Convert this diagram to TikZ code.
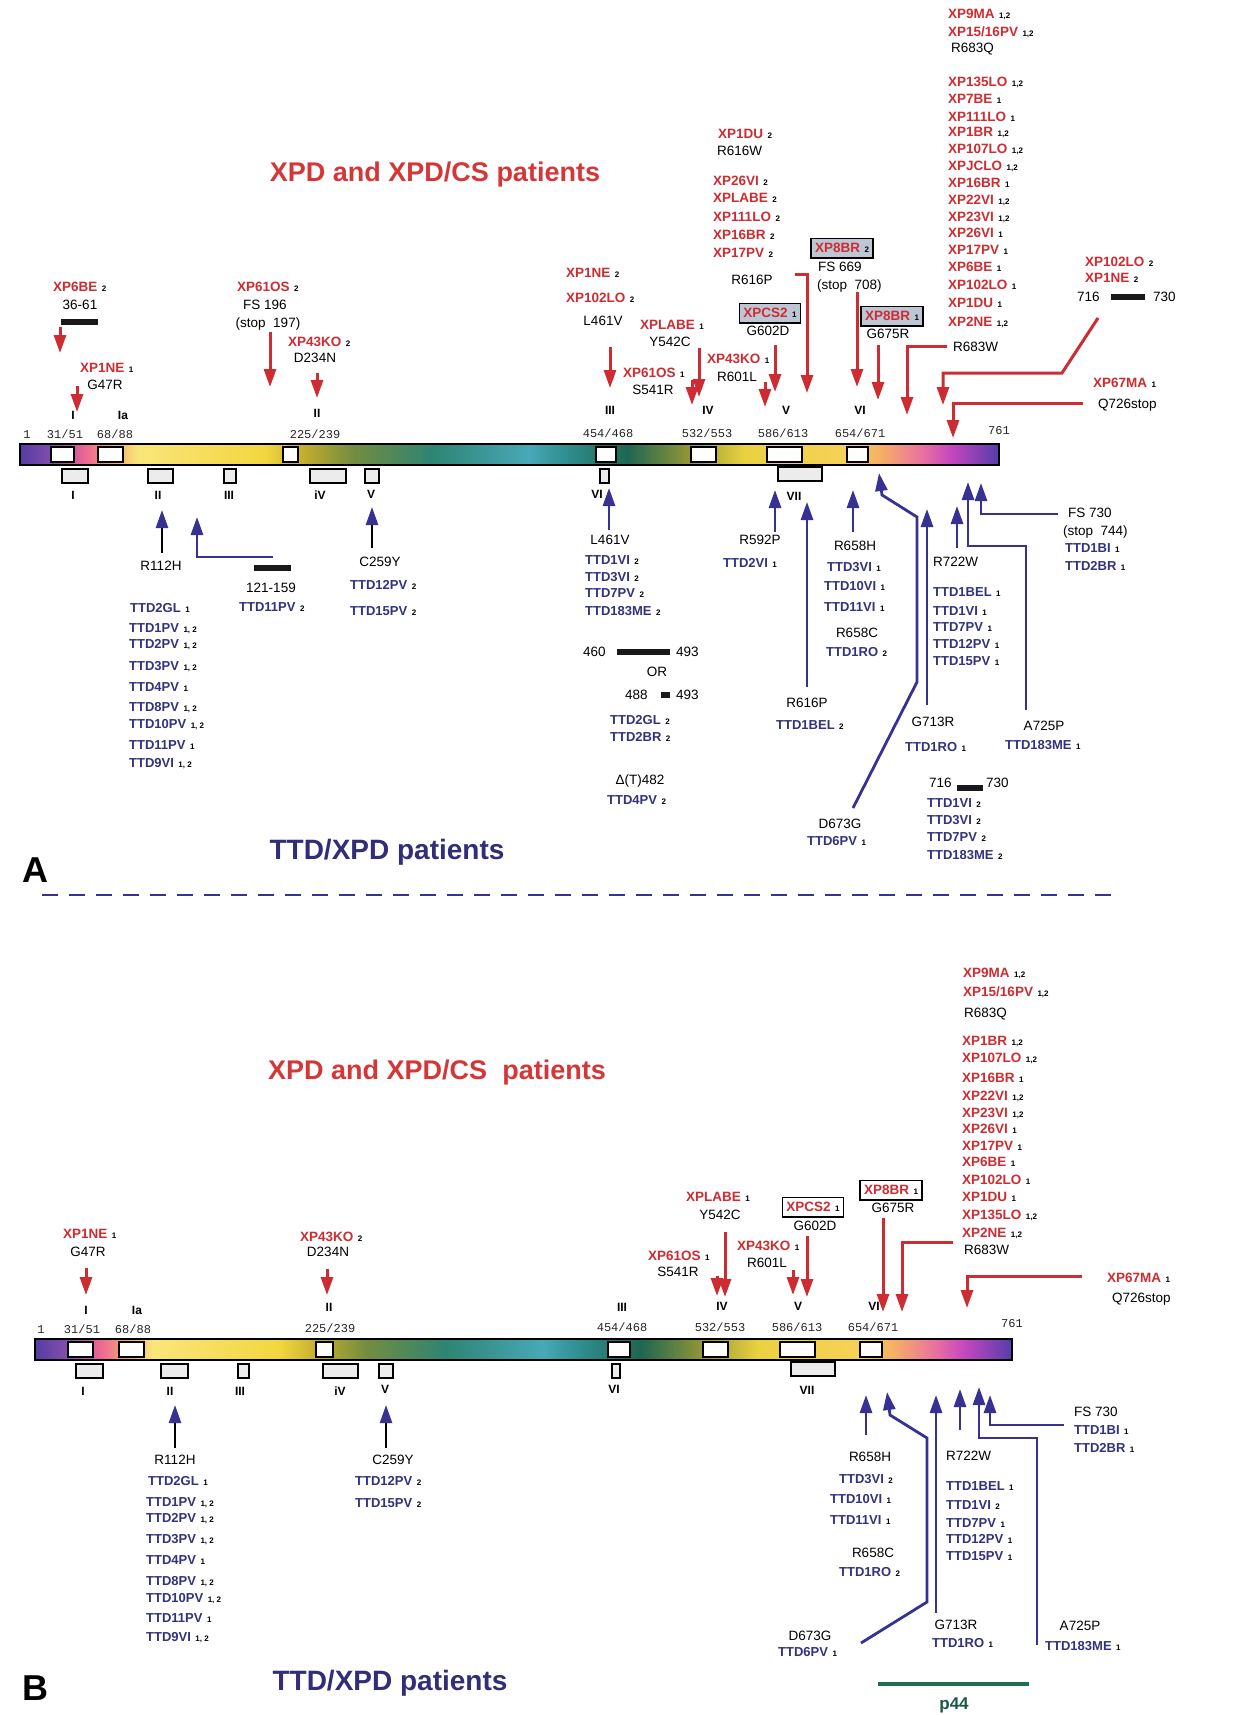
\documentclass[tikz,border=0pt]{standalone}
\usepackage{fontspec}
\setmainfont{Liberation Sans}
\newfontfamily\monof{Liberation Mono}
\usetikzlibrary{arrows.meta}
\definecolor{xpred}{RGB}{205,45,50}
\definecolor{titlered}{RGB}{212,55,55}
\definecolor{ttdblue}{RGB}{55,50,145}
\definecolor{ttdtext}{RGB}{50,50,125}
\definecolor{titleblue}{RGB}{50,45,120}
\definecolor{boxgray}{RGB}{190,198,212}
\definecolor{p44green}{RGB}{30,110,80}
\pgfdeclarehorizontalshading{xpdbar}{100bp}{
rgb(0bp)=(.33,.24,.63);
rgb(25bp)=(.33,.24,.63);
rgb(26.5bp)=(.50,.30,.68);
rgb(28.3bp)=(.93,.40,.58);
rgb(30bp)=(.97,.70,.45);
rgb(31bp)=(.98,.90,.48);
rgb(37.5bp)=(.95,.84,.25);
rgb(39.5bp)=(.76,.68,.18);
rgb(42bp)=(.45,.55,.25);
rgb(46bp)=(.18,.52,.45);
rgb(51bp)=(.28,.66,.72);
rgb(53bp)=(.18,.55,.55);
rgb(56bp)=(.12,.40,.32);
rgb(59bp)=(.55,.58,.22);
rgb(62bp)=(.92,.82,.25);
rgb(67.5bp)=(.97,.82,.35);
rgb(69bp)=(.96,.68,.40);
rgb(71bp)=(.92,.45,.62);
rgb(72.5bp)=(.78,.28,.75);
rgb(75bp)=(.33,.24,.67);
rgb(100bp)=(.33,.24,.67)}
\newcommand{\sn}[1]{\hspace{4.5pt}{\color{black}\fontsize{8}{8}\selectfont\bfseries #1}}
\newcommand{\lab}[5]{\node[#2] (#1) at (#3,#4) {#5};}
\tikzset{
  xp/.style={font=\fontsize{13.5}{14}\selectfont\bfseries, text=xpred, anchor=west, inner sep=0pt, text height=9.7pt, text depth=0pt},
  mt/.style={font=\fontsize{13.5}{14}\selectfont, text=black, inner sep=0pt, text height=9.7pt, text depth=0pt},
  mtw/.style={mt, anchor=west},
  td/.style={font=\fontsize{13}{14}\selectfont\bfseries, text=ttdtext, anchor=west, inner sep=0pt, text height=9.4pt, text depth=0pt},
  nm/.style={font=\monof\fontsize{12}{12}\selectfont, text=black!85, inner sep=0pt, text height=8.5pt, text depth=0pt},
  mo/.style={font=\fontsize{12}{12}\selectfont\bfseries, inner sep=0pt, text height=8.6pt, text depth=0pt},
  bx/.style={xp, anchor=center, draw=black, line width=1.3pt, fill=boxgray, inner xsep=4pt, inner ysep=5pt},
  bxw/.style={bx, fill=white},
  redarr/.style={draw=xpred, line width=3pt, -{Triangle[width=12pt,length=18pt]}},
  bluearr/.style={draw=ttdblue, line width=2.8pt, -{Triangle[width=12pt,length=18pt]}},
  blkarr/.style={draw=black, line width=2.5pt, -{Triangle[width=12pt,length=18pt,color=ttdblue]}},
  whbox/.style={draw=black, line width=1.5pt, fill=white},
  smbox/.style={draw=black, line width=1.4pt, fill=gray!15},
  blkbar/.style={fill=black!90},
  bigtitle/.style={font=\fontsize{27}{30}\selectfont\bfseries},
  bigtitleb/.style={font=\fontsize{28}{30}\selectfont\bfseries},
  panel/.style={font=\fontsize{36}{38}\selectfont\bfseries, text=black}
}
\begin{document}
\begin{tikzpicture}[x=1pt,y=-1pt]
\useasboundingbox (0,0) rectangle (1260,1715);
\fill[white] (0,0) rectangle (1260,1715);

% ================= PANEL A =================
\node[bigtitle, text=titlered] (aT) at (435,175) {XPD and XPD/CS patients};

% top-right list
\lab{a1}{xp}{948}{14}{XP9MA\sn{1,2}}
\lab{a2}{xp}{948}{32}{XP15/16PV\sn{1,2}}
\lab{a3}{mtw}{951}{48}{R683Q}
\lab{a4}{xp}{948}{82}{XP135LO\sn{1,2}}
\lab{a5}{xp}{948}{99}{XP7BE\sn{1}}
\lab{a6}{xp}{948}{117}{XP111LO\sn{1}}
\lab{a7}{xp}{948}{132}{XP1BR\sn{1,2}}
\lab{a8}{xp}{948}{149}{XP107LO\sn{1,2}}
\lab{a9}{xp}{948}{166}{XPJCLO\sn{1,2}}
\lab{a10}{xp}{948}{183}{XP16BR\sn{1}}
\lab{a11}{xp}{948}{200}{XP22VI\sn{1,2}}
\lab{a12}{xp}{948}{217}{XP23VI\sn{1,2}}
\lab{a13}{xp}{948}{233}{XP26VI\sn{1}}
\lab{a14}{xp}{948}{250}{XP17PV\sn{1}}
\lab{a15}{xp}{948}{267}{XP6BE\sn{1}}
\lab{a16}{xp}{948}{285}{XP102LO\sn{1}}
\lab{a17}{xp}{948}{303}{XP1DU\sn{1}}
\lab{a18}{xp}{948}{322}{XP2NE\sn{1,2}}
\lab{a19}{mtw}{953}{347}{R683W}

\lab{a20}{xp}{1085}{262}{XP102LO\sn{2}}
\lab{a21}{xp}{1085}{278}{XP1NE\sn{2}}
\lab{a22}{mtw}{1077}{297}{716}
\fill[blkbar] (1111,294) rectangle (1145,300);
\lab{a23}{mtw}{1153}{297}{730}

\lab{a24}{xp}{1093}{383}{XP67MA\sn{1}}
\lab{a25}{mtw}{1098}{404}{Q726stop}

% middle group
\lab{a26}{xp}{718}{134}{XP1DU\sn{2}}
\lab{a27}{mtw}{717}{151}{R616W}
\lab{a28}{xp}{713}{181}{XP26VI\sn{2}}
\lab{a29}{xp}{713}{198}{XPLABE\sn{2}}
\lab{a30}{xp}{713}{217}{XP111LO\sn{2}}
\lab{a31}{xp}{713}{235}{XP16BR\sn{2}}
\lab{a32}{xp}{713}{253}{XP17PV\sn{2}}
\lab{a33}{mt}{752}{280}{R616P}
\lab{a34}{bx}{842}{248}{XP8BR\sn{2}}
\lab{a35}{mtw}{818}{267}{FS 669}
\lab{a36}{mtw}{817}{285}{(stop\ \ 708)}
\lab{a37}{bx}{770}{313}{XPCS2\sn{1}}
\lab{a38}{mt}{768}{331}{G602D}
\lab{a39}{bx}{892}{316}{XP8BR\sn{1}}
\lab{a40}{mt}{888}{334}{G675R}
\lab{a41}{xp}{566}{273}{XP1NE\sn{2}}
\lab{a42}{xp}{566}{298}{XP102LO\sn{2}}
\lab{a43}{mt}{603}{321}{L461V}
\lab{a44}{xp}{640}{325}{XPLABE\sn{1}}
\lab{a45}{mt}{670}{342}{Y542C}
\lab{a46}{xp}{623}{373}{XP61OS\sn{1}}
\lab{a47}{mt}{653}{390}{S541R}
\lab{a48}{xp}{707}{359}{XP43KO\sn{1}}
\lab{a49}{mt}{737}{377}{R601L}

% left group
\lab{a50}{xp}{53}{287}{XP6BE\sn{2}}
\lab{a51}{mt}{80}{305}{36-61}
\fill[blkbar] (61,319) rectangle (98,325);
\lab{a52}{xp}{80}{368}{XP1NE\sn{1}}
\lab{a53}{mt}{105}{385}{G47R}
\lab{a54}{xp}{237}{287}{XP61OS\sn{2}}
\lab{a55}{mt}{265}{305}{FS 196}
\lab{a56}{mt}{268}{323}{(stop\ \ 197)}
\lab{a57}{xp}{288}{342}{XP43KO\sn{2}}
\lab{a58}{mt}{315}{358}{D234N}

% red arrows A
\draw[redarr] (60,327) -- (60,353);
\draw[redarr] (77,386) -- (77,412);
\draw[redarr] (270,332) -- (270,387);
\draw[redarr] (317,373) -- (317,398);
\draw[redarr] (610,347) -- (610,388);
\draw[redarr] (699,348) -- (699,397);
\draw[redarr] (692,380) -- (692,405);
\draw[redarr] (765,382) -- (765,407);
\draw[redarr] (775,345) -- (775,392);
\draw[redarr] (795,274) -- (807,274) -- (807,393);
\draw[redarr] (857,292) -- (857,387);
\draw[redarr] (878,345) -- (878,400);
\draw[redarr] (947,346) -- (907,346) -- (907,415);
\draw[redarr] (1098,318) -- (1062,373) -- (943,373) -- (943,405);
\draw[redarr] (1083,403) -- (953,403) -- (953,438);

% motif labels above A
\lab{am1}{mo}{73}{415}{I}
\lab{am2}{mo}{123}{415}{Ia}
\lab{am3}{mo}{317}{413}{II}
\lab{am4}{mo}{610}{410}{III}
\lab{am5}{mo}{708}{410}{IV}
\lab{am6}{mo}{786}{410}{V}
\lab{am7}{mo}{860}{410}{VI}

% numbers A
\lab{an1}{nm}{27}{434}{1}
\lab{an2}{nm}{65}{434}{31/51}
\lab{an3}{nm}{115}{434}{68/88}
\lab{an4}{nm}{315}{434}{225/239}
\lab{an5}{nm}{608}{433}{454/468}
\lab{an6}{nm}{707}{433}{532/553}
\lab{an7}{nm}{783}{433}{586/613}
\lab{an8}{nm}{860}{433}{654/671}
\lab{an9}{nm}{999}{430}{761}

% bar A
\shade[shading=xpdbar] (20,444) rectangle (999,465);
\draw[line width=1.5pt] (20,444) rectangle (999,465);
\foreach \a/\b in {51/74, 98/123, 283/298, 596/616, 691/716, 767/802, 847/868}
  \draw[whbox] (\a,447) rectangle (\b,462);

% small boxes below A
\foreach \a/\b in {62/88, 148/173, 224/236, 310/346, 365/379, 600/609}
  \draw[smbox] (\a,469) rectangle (\b,483);
\draw[smbox] (778,467) rectangle (822,481);
\lab{al1}{mo}{73}{495}{I}
\lab{al2}{mo}{158}{495}{II}
\lab{al3}{mo}{229}{495}{III}
\lab{al4}{mo}{320}{495}{iV}
\lab{al5}{mo}{371}{494}{V}
\lab{al6}{mo}{597}{494}{VI}
\lab{al7}{mo}{794}{496}{VII}

% blue arrows A
\draw[blkarr] (162,553) -- (162,510);
\draw[bluearr] (273,557) -- (197,557) -- (197,517);
\draw[blkarr] (372,548) -- (372,507);
\draw[bluearr] (609,530) -- (609,488);
\draw[bluearr] (775,532) -- (775,490);
\draw[bluearr] (807,687) -- (807,502);
\draw[bluearr] (853,532) -- (853,490);
\draw[bluearr] (853,808) -- (917,682) -- (917,517) -- (882,495) -- (879,473);
\draw[bluearr] (927,705) -- (927,509);
\draw[bluearr] (957,548) -- (957,506);
\draw[bluearr] (1026,710) -- (1026,546) -- (968,546) -- (968,482);
\draw[bluearr] (1058,514) -- (981,514) -- (981,483);

% labels A bottom
\lab{b1}{mt}{161}{566}{R112H}
\fill[blkbar] (254,565) rectangle (291,571);
\lab{b2}{mt}{271}{588}{121-159}
\lab{b3}{td}{239}{607}{TTD11PV\sn{2}}
\lab{b4}{mt}{380}{562}{C259Y}
\lab{b5}{td}{350}{585}{TTD12PV\sn{2}}
\lab{b6}{td}{350}{611}{TTD15PV\sn{2}}
\lab{b7}{td}{130}{608}{TTD2GL\sn{1}}
\lab{b8}{td}{129}{628}{TTD1PV\sn{1, 2}}
\lab{b9}{td}{129}{644}{TTD2PV\sn{1, 2}}
\lab{b10}{td}{129}{666}{TTD3PV\sn{1, 2}}
\lab{b11}{td}{129}{687}{TTD4PV\sn{1}}
\lab{b12}{td}{129}{707}{TTD8PV\sn{1, 2}}
\lab{b13}{td}{129}{724}{TTD10PV\sn{1, 2}}
\lab{b14}{td}{129}{745}{TTD11PV\sn{1}}
\lab{b15}{td}{129}{763}{TTD9VI\sn{1, 2}}
\lab{b16}{mt}{610}{540}{L461V}
\lab{b17}{td}{585}{560}{TTD1VI\sn{2}}
\lab{b18}{td}{585}{577}{TTD3VI\sn{2}}
\lab{b19}{td}{585}{593}{TTD7PV\sn{2}}
\lab{b20}{td}{585}{611}{TTD183ME\sn{2}}
\lab{b21}{mtw}{583}{652}{460}
\fill[blkbar] (617,649) rectangle (670,655);
\lab{b22}{mtw}{676}{652}{493}
\lab{b23}{mt}{657}{672}{OR}
\lab{b24}{mtw}{625}{695}{488}
\fill[blkbar] (661,692) rectangle (670,698);
\lab{b25}{mtw}{676}{695}{493}
\lab{b26}{td}{610}{720}{TTD2GL\sn{2}}
\lab{b27}{td}{610}{737}{TTD2BR\sn{2}}
\lab{b28}{mt}{640}{780}{Δ(T)482}
\lab{b29}{td}{607}{800}{TTD4PV\sn{2}}
\lab{b30}{mt}{760}{540}{R592P}
\lab{b31}{td}{723}{563}{TTD2VI\sn{1}}
\lab{b32}{mt}{807}{703}{R616P}
\lab{b33}{td}{776}{725}{TTD1BEL\sn{2}}
\lab{b34}{mt}{855}{546}{R658H}
\lab{b35}{td}{827}{567}{TTD3VI\sn{1}}
\lab{b36}{td}{824}{586}{TTD10VI\sn{1}}
\lab{b37}{td}{824}{607}{TTD11VI\sn{1}}
\lab{b38}{mt}{857}{633}{R658C}
\lab{b39}{td}{826}{652}{TTD1RO\sn{2}}
\lab{b40}{mt}{840}{824}{D673G}
\lab{b41}{td}{807}{841}{TTD6PV\sn{1}}
\lab{b42}{mt}{933}{722}{G713R}
\lab{b43}{td}{905}{747}{TTD1RO\sn{1}}
\lab{b44}{mtw}{933}{562}{R722W}
\lab{b45}{td}{933}{592}{TTD1BEL\sn{1}}
\lab{b46}{td}{933}{611}{TTD1VI\sn{1}}
\lab{b47}{td}{933}{627}{TTD7PV\sn{1}}
\lab{b48}{td}{933}{644}{TTD12PV\sn{1}}
\lab{b49}{td}{933}{661}{TTD15PV\sn{1}}
\lab{b50}{mtw}{1068}{513}{FS 730}
\lab{b51}{mtw}{1063}{531}{(stop\ \ 744)}
\lab{b52}{td}{1065}{548}{TTD1BI\sn{1}}
\lab{b53}{td}{1065}{566}{TTD2BR\sn{1}}
\lab{b54}{mt}{1044}{726}{A725P}
\lab{b55}{td}{1005}{745}{TTD183ME\sn{1}}
\lab{b56}{mtw}{929}{783}{716}
\fill[blkbar] (957,785) rectangle (983,791);
\lab{b57}{mtw}{986}{783}{730}
\lab{b58}{td}{927}{803}{TTD1VI\sn{2}}
\lab{b59}{td}{927}{820}{TTD3VI\sn{2}}
\lab{b60}{td}{927}{837}{TTD7PV\sn{2}}
\lab{b61}{td}{927}{855}{TTD183ME\sn{2}}

\node[bigtitleb, text=titleblue] (aB) at (387,852) {TTD/XPD patients};
\node[panel] (pA) at (35,870) {A};

% dashed separator
\coordinate (dl) at (42,895);
\coordinate (dr) at (1113,895);
\draw[ttdblue, line width=1.4pt, dash pattern=on 16pt off 11pt] (dl) -- (dr);

% ================= PANEL B =================
\node[bigtitle, text=titlered] (bT) at (437,1073) {XPD and XPD/CS\ \ patients};

\lab{c1}{xp}{963}{973}{XP9MA\sn{1,2}}
\lab{c2}{xp}{963}{992}{XP15/16PV\sn{1,2}}
\lab{c3}{mtw}{964}{1013}{R683Q}
\lab{c4}{xp}{962}{1041}{XP1BR\sn{1,2}}
\lab{c5}{xp}{962}{1058}{XP107LO\sn{1,2}}
\lab{c6}{xp}{962}{1078}{XP16BR\sn{1}}
\lab{c7}{xp}{962}{1096}{XP22VI\sn{1,2}}
\lab{c8}{xp}{962}{1113}{XP23VI\sn{1,2}}
\lab{c9}{xp}{962}{1129}{XP26VI\sn{1}}
\lab{c10}{xp}{962}{1146}{XP17PV\sn{1}}
\lab{c11}{xp}{962}{1162}{XP6BE\sn{1}}
\lab{c12}{xp}{962}{1180}{XP102LO\sn{1}}
\lab{c13}{xp}{962}{1197}{XP1DU\sn{1}}
\lab{c14}{xp}{962}{1215}{XP135LO\sn{1,2}}
\lab{c15}{xp}{962}{1233}{XP2NE\sn{1,2}}
\lab{c16}{mtw}{964}{1250}{R683W}
\lab{c17}{xp}{1107}{1278}{XP67MA\sn{1}}
\lab{c18}{mtw}{1112}{1298}{Q726stop}

\lab{c19}{xp}{686}{1197}{XPLABE\sn{1}}
\lab{c20}{mt}{720}{1215}{Y542C}
\lab{c21}{xp}{648}{1256}{XP61OS\sn{1}}
\lab{c22}{mt}{678}{1272}{S541R}
\lab{c23}{bxw}{813}{1207}{XPCS2\sn{1}}
\lab{c24}{mt}{815}{1226}{G602D}
\lab{c25}{xp}{737}{1246}{XP43KO\sn{1}}
\lab{c26}{mt}{767}{1263}{R601L}
\lab{c27}{bxw}{891}{1190}{XP8BR\sn{1}}
\lab{c28}{mt}{893}{1208}{G675R}
\lab{c29}{xp}{63}{1234}{XP1NE\sn{1}}
\lab{c30}{mt}{88}{1252}{G47R}
\lab{c31}{xp}{300}{1237}{XP43KO\sn{2}}
\lab{c32}{mt}{328}{1252}{D234N}

% red arrows B
\draw[redarr] (86,1268) -- (86,1295);
\draw[redarr] (327,1269) -- (327,1295);
\draw[redarr] (725,1232) -- (725,1297);
\draw[redarr] (717,1276) -- (717,1296);
\draw[redarr] (807,1236) -- (807,1297);
\draw[redarr] (793,1270) -- (793,1295);
\draw[redarr] (883,1218) -- (883,1312);
\draw[redarr] (953,1242) -- (902,1242) -- (902,1312);
\draw[redarr] (1082,1276) -- (967,1276) -- (967,1308);

% motif labels above B
\lab{cm1}{mo}{86}{1310}{I}
\lab{cm2}{mo}{137}{1310}{Ia}
\lab{cm3}{mo}{329}{1307}{II}
\lab{cm4}{mo}{622}{1307}{III}
\lab{cm5}{mo}{722}{1306}{IV}
\lab{cm6}{mo}{798}{1306}{V}
\lab{cm7}{mo}{874}{1306}{VI}

% numbers B
\lab{cn1}{nm}{41}{1329}{1}
\lab{cn2}{nm}{82}{1329}{31/51}
\lab{cn3}{nm}{133}{1329}{68/88}
\lab{cn4}{nm}{330}{1328}{225/239}
\lab{cn5}{nm}{622}{1327}{454/468}
\lab{cn6}{nm}{720}{1327}{532/553}
\lab{cn7}{nm}{797}{1327}{586/613}
\lab{cn8}{nm}{873}{1327}{654/671}
\lab{cn9}{nm}{1012}{1323}{761}

% bar B
\shade[shading=xpdbar] (35,1339) rectangle (1012,1360);
\draw[line width=1.5pt] (35,1339) rectangle (1012,1360);
\foreach \a/\b in {68/93, 119/144, 316/333, 608/630, 703/728, 780/815, 860/882}
  \draw[whbox] (\a,1342) rectangle (\b,1357);

\foreach \a/\b in {76/103, 161/188, 238/249, 323/358, 379/393, 612/620}
  \draw[smbox] (\a,1364) rectangle (\b,1378);
\draw[smbox] (791,1362) rectangle (835,1376);
\lab{cl1}{mo}{83}{1391}{I}
\lab{cl2}{mo}{170}{1391}{II}
\lab{cl3}{mo}{240}{1391}{III}
\lab{cl4}{mo}{340}{1391}{iV}
\lab{cl5}{mo}{385}{1389}{V}
\lab{cl6}{mo}{614}{1389}{VI}
\lab{cl7}{mo}{807}{1390}{VII}

% blue arrows B
\draw[blkarr] (175,1448) -- (175,1405);
\draw[blkarr] (386,1448) -- (386,1405);
\draw[bluearr] (866,1435) -- (866,1395);
\draw[bluearr] (861,1643) -- (927,1602) -- (927,1438) -- (890,1415) -- (887,1392);
\draw[bluearr] (936,1613) -- (936,1395);
\draw[bluearr] (960,1430) -- (960,1389);
\draw[bluearr] (1037,1645) -- (1037,1438) -- (979,1438) -- (979,1387);
\draw[bluearr] (1064,1425) -- (990,1425) -- (990,1395);

% labels B bottom
\lab{d1}{mt}{175}{1460}{R112H}
\lab{d2}{td}{148}{1481}{TTD2GL\sn{1}}
\lab{d3}{td}{146}{1502}{TTD1PV\sn{1, 2}}
\lab{d4}{td}{146}{1518}{TTD2PV\sn{1, 2}}
\lab{d5}{td}{146}{1539}{TTD3PV\sn{1, 2}}
\lab{d6}{td}{146}{1560}{TTD4PV\sn{1}}
\lab{d7}{td}{146}{1581}{TTD8PV\sn{1, 2}}
\lab{d8}{td}{146}{1598}{TTD10PV\sn{1, 2}}
\lab{d9}{td}{146}{1618}{TTD11PV\sn{1}}
\lab{d10}{td}{146}{1637}{TTD9VI\sn{1, 2}}
\lab{d11}{mt}{393}{1460}{C259Y}
\lab{d12}{td}{355}{1481}{TTD12PV\sn{2}}
\lab{d13}{td}{355}{1503}{TTD15PV\sn{2}}
\lab{d14}{mt}{870}{1457}{R658H}
\lab{d15}{td}{839}{1479}{TTD3VI\sn{2}}
\lab{d16}{td}{830}{1499}{TTD10VI\sn{1}}
\lab{d17}{td}{830}{1520}{TTD11VI\sn{1}}
\lab{d18}{mt}{873}{1553}{R658C}
\lab{d19}{td}{839}{1572}{TTD1RO\sn{2}}
\lab{d20}{mt}{810}{1636}{D673G}
\lab{d21}{td}{778}{1652}{TTD6PV\sn{1}}
\lab{d22}{mt}{956}{1625}{G713R}
\lab{d23}{td}{932}{1643}{TTD1RO\sn{1}}
\lab{d24}{mtw}{946}{1456}{R722W}
\lab{d25}{td}{946}{1486}{TTD1BEL\sn{1}}
\lab{d26}{td}{946}{1505}{TTD1VI\sn{2}}
\lab{d27}{td}{946}{1523}{TTD7PV\sn{1}}
\lab{d28}{td}{946}{1539}{TTD12PV\sn{1}}
\lab{d29}{td}{946}{1556}{TTD15PV\sn{1}}
\lab{d30}{mtw}{1074}{1412}{FS 730}
\lab{d31}{td}{1074}{1430}{TTD1BI\sn{1}}
\lab{d32}{td}{1074}{1448}{TTD2BR\sn{1}}
\lab{d33}{mt}{1080}{1626}{A725P}
\lab{d34}{td}{1045}{1646}{TTD183ME\sn{1}}

\coordinate (p44l) at (878,1684);
\coordinate (p44r) at (1029,1684);
\draw[p44green, line width=4pt] (p44l) -- (p44r);
\node[font=\fontsize{17}{18}\selectfont\bfseries, text=p44green!80!black, inner sep=0pt] (p44) at (954,1705) {p44};

\node[bigtitleb, text=titleblue] (bB) at (390,1683) {TTD/XPD patients};
\node[panel] (pB) at (35,1688) {B};
\end{tikzpicture}
\end{document}
